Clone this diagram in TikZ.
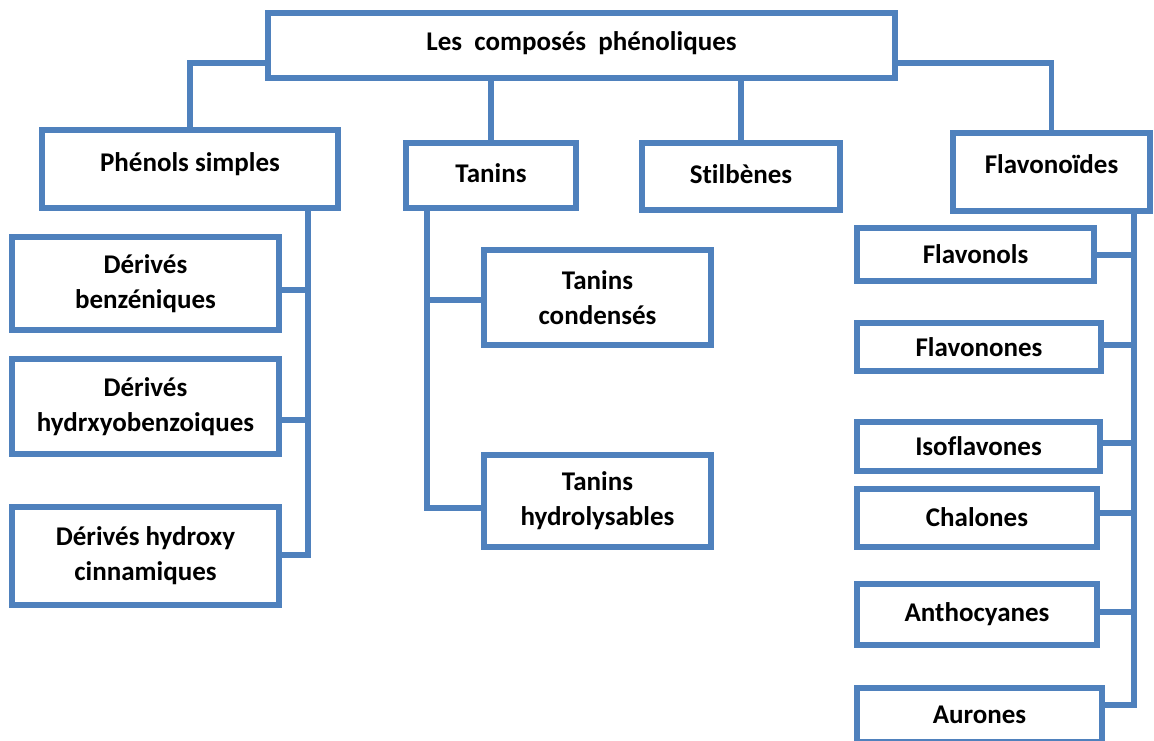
\documentclass[tikz,border=0pt]{standalone}
\usepackage{fontspec}
\setmainfont{Carlito}[Ligatures={NoCommon}]
\usetikzlibrary{calc,backgrounds}
\definecolor{blu}{HTML}{4F81BD}
\begin{document}
\begin{tikzpicture}[x=1pt,y=-1pt,
  box/.style={draw=blu, line width=5.5pt, fill=white, align=center, inner sep=0pt,
    font=\fontsize{27}{35}\selectfont\bfseries},
  conn/.style={draw=blu, line width=5.5pt, line join=miter}]
\useasboundingbox (0,0) rectangle (1154,740);
\node[box, minimum width=627pt, minimum height=65pt] (top) at (581.5,45.5) {\raisebox{8pt}{Les\ \ composés\ \ phénoliques}};
\node[box, minimum width=296pt, minimum height=78pt] (phen) at (190,169) {\raisebox{14pt}{Phénols simples}};
\node[box, minimum width=170pt, minimum height=65pt] (tan) at (491,175.5) {\raisebox{4pt}{Tanins}};
\node[box, minimum width=198pt, minimum height=67pt] (stil) at (741,176.5) {\raisebox{5pt}{Stilbènes}};
\node[box, minimum width=197pt, minimum height=78pt] (flav) at (1051.5,172) {\raisebox{15pt}{Flavonoïdes}};
\node[box, minimum width=267pt, minimum height=93pt] (benz) at (145.5,283.5) {\raisebox{-2.5pt}{\begin{tabular}{@{}c@{}}Dérivés\\benzéniques\end{tabular}}};
\node[box, minimum width=267pt, minimum height=95pt] (hydb) at (145.5,406.5) {Dérivés\\hydrxyobenzoiques};
\node[box, minimum width=267pt, minimum height=98pt] (cinn) at (145.5,556) {Dérivés hydroxy\\cinnamiques};
\node[box, minimum width=227pt, minimum height=95pt] (tcond) at (597.5,297.5) {Tanins\\condensés};
\node[box, minimum width=227pt, minimum height=92pt] (thyd) at (597.5,501) {Tanins\\hydrolysables};
\node[box, minimum width=237pt, minimum height=53pt] (fl1) at (975.5,254.5) {\raisebox{-1pt}{Flavonols}};
\node[box, minimum width=244pt, minimum height=48pt] (fl2) at (979,347) {\raisebox{-6pt}{Flavonones}};
\node[box, minimum width=243pt, minimum height=49pt] (fl3) at (978.5,446.5) {Isoflavones};
\node[box, minimum width=240pt, minimum height=58pt] (fl4) at (977,518) {\raisebox{2pt}{Chalones}};
\node[box, minimum width=240pt, minimum height=61pt] (fl5) at (977,614.5) {\raisebox{2pt}{Anthocyanes}};
\node[box, minimum width=245pt, minimum height=54pt] (fl6) at (979.5,715) {Aurones};
\begin{scope}[on background layer]
  % top level
  \draw[conn] ($(top.west)+(0,17.5)$) -| (phen.north);
  \draw[conn] (top.south -| tan.north) -- (tan.north);
  \draw[conn] (top.south -| stil.north) -- (stil.north);
  \draw[conn] ($(top.east)+(0,17.5)$) -| (flav.north);
  % phenols simples
  \coordinate (p1) at (308,290);
  \coordinate (p2) at (308,420);
  \coordinate (p3) at (308,555);
  \draw[conn] (phen.south -| p1) -- (p3) -- (p3 -| cinn.east);
  \draw[conn] (p1) -- (p1 -| benz.east);
  \draw[conn] (p2) -- (p2 -| hydb.east);
  % tanins
  \coordinate (t1) at (427,300);
  \coordinate (t2) at (427,508);
  \draw[conn] (tan.south -| t1) -- (t2) -- (t2 -| thyd.west);
  \draw[conn] (t1) -- (t1 -| tcond.west);
  % flavonoides
  \coordinate (f1) at (1134,255);
  \coordinate (f2) at (1134,345);
  \coordinate (f3) at (1134,443);
  \coordinate (f4) at (1134,513);
  \coordinate (f5) at (1134,612);
  \coordinate (f6) at (1134,705);
  \draw[conn] (flav.south -| f1) -- (f6) -- (f6 -| fl6.east);
  \draw[conn] (f1) -- (f1 -| fl1.east);
  \draw[conn] (f2) -- (f2 -| fl2.east);
  \draw[conn] (f3) -- (f3 -| fl3.east);
  \draw[conn] (f4) -- (f4 -| fl4.east);
  \draw[conn] (f5) -- (f5 -| fl5.east);
\end{scope}
\end{tikzpicture}
\end{document}
